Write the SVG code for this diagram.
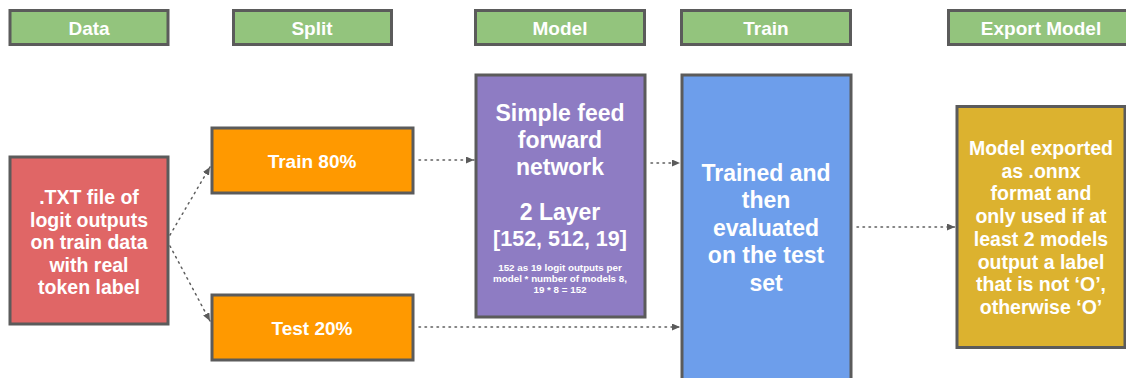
<svg xmlns="http://www.w3.org/2000/svg" width="1126" height="378" viewBox="0 0 1126 378">
<style>
.box{stroke:#5b5b5b;stroke-width:3}
.hdr{fill:#93c47d}
.t{font-family:"Liberation Sans",Arial,sans-serif;font-weight:700;fill:#ffffff;text-anchor:middle;dominant-baseline:central}
.h{font-size:19px}
.m{font-size:19.5px}
.o{font-size:19px}
.b{font-size:23px}
.nb{font-size:21.5px}
.s{font-size:9.8px}
.c{fill:none;stroke:#5e5e5e;stroke-width:1.5;stroke-dasharray:1.5 4.5;stroke-linecap:round}
</style>
<defs>
<marker id="ah" viewBox="0 0 10 10" refX="10" refY="5" markerWidth="8" markerHeight="7" markerUnits="userSpaceOnUse" orient="auto" preserveAspectRatio="none">
<path d="M0,0 L10,5 L0,10 z" fill="#5b5b5b"/>
</marker>
</defs>
<rect width="1126" height="378" fill="#ffffff"/>
<g id="headers">
<g id="h-data"><rect class="box hdr" x="10" y="10.5" width="158" height="34"/><text class="t h" x="89" y="28">Data</text></g>
<g id="h-split"><rect class="box hdr" x="233.5" y="10.5" width="158" height="34"/><text class="t h" x="312" y="28">Split</text></g>
<g id="h-model"><rect class="box hdr" x="475.5" y="10.5" width="169" height="34"/><text class="t h" x="560" y="28">Model</text></g>
<g id="h-train"><rect class="box hdr" x="681.5" y="10.5" width="169" height="34"/><text class="t h" x="766" y="28">Train</text></g>
<g id="h-export"><rect class="box hdr" x="948.5" y="10.5" width="186" height="34"/><text class="t h" x="1041" y="28">Export Model</text></g>
</g>
<g id="connectors">
<path class="c" d="M170,235 L210,167" marker-end="url(#ah)"/>
<path class="c" d="M170,246 L210,321" marker-end="url(#ah)"/>
<path class="c" d="M419,160 L474,160" marker-end="url(#ah)"/>
<path class="c" d="M651,163 L680,163" marker-end="url(#ah)"/>
<path class="c" d="M419,327 L680,327" marker-end="url(#ah)"/>
<path class="c" d="M857,227 L955,227" marker-end="url(#ah)"/>
</g>
<g id="data">
<rect class="box" fill="#e06666" x="10" y="157" width="158" height="167"/>
<text class="t m" x="89"><tspan x="89" y="197">.TXT file of</tspan><tspan x="89" y="219.5">logit outputs</tspan><tspan x="89" y="242">on train data</tspan><tspan x="89" y="264.5">with real</tspan><tspan x="89" y="287">token label</tspan></text>
</g>
<g id="train80">
<rect class="box" fill="#ff9900" x="212" y="128" width="201" height="65"/>
<text class="t o" x="312" y="161.5">Train 80%</text>
</g>
<g id="test20">
<rect class="box" fill="#ff9900" x="212" y="295" width="201" height="65"/>
<text class="t o" x="312" y="328">Test 20%</text>
</g>
<g id="model">
<rect class="box" fill="#8e7cc3" x="476" y="75" width="169" height="242"/>
<text class="t b" x="560"><tspan x="560" y="112.5">Simple feed</tspan><tspan x="560" y="140">forward</tspan><tspan x="560" y="167">network</tspan><tspan x="560" y="212">2 Layer</tspan></text>
<text class="t nb" x="560" y="239">[152, 512, 19]</text>
<text class="t s" x="560"><tspan x="560" y="266.5">152 as 19 logit outputs per</tspan><tspan x="560" y="277.8">model * number of models 8,</tspan><tspan x="560" y="289.1">19 * 8 = 152</tspan></text>
</g>
<g id="train">
<rect class="box" fill="#6d9eeb" x="682" y="75" width="169" height="315"/>
<text class="t b" x="766"><tspan x="766" y="172.5">Trained and</tspan><tspan x="766" y="200">then</tspan><tspan x="766" y="227.5">evaluated</tspan><tspan x="766" y="255">on the test</tspan><tspan x="766" y="282.5">set</tspan></text>
</g>
<g id="export">
<rect class="box" fill="#dcb22f" x="957" y="106.5" width="168" height="241"/>
<text class="t m" x="1041"><tspan x="1041" y="148">Model exported</tspan><tspan x="1041" y="170.7">as .onnx</tspan><tspan x="1041" y="193.4">format and</tspan><tspan x="1041" y="216.1">only used if at</tspan><tspan x="1041" y="238.8">least 2 models</tspan><tspan x="1041" y="261.5">output a label</tspan><tspan x="1041" y="284.2">that is not ‘O’,</tspan><tspan x="1041" y="306.9">otherwise ‘O’</tspan></text>
</g>
</svg>
